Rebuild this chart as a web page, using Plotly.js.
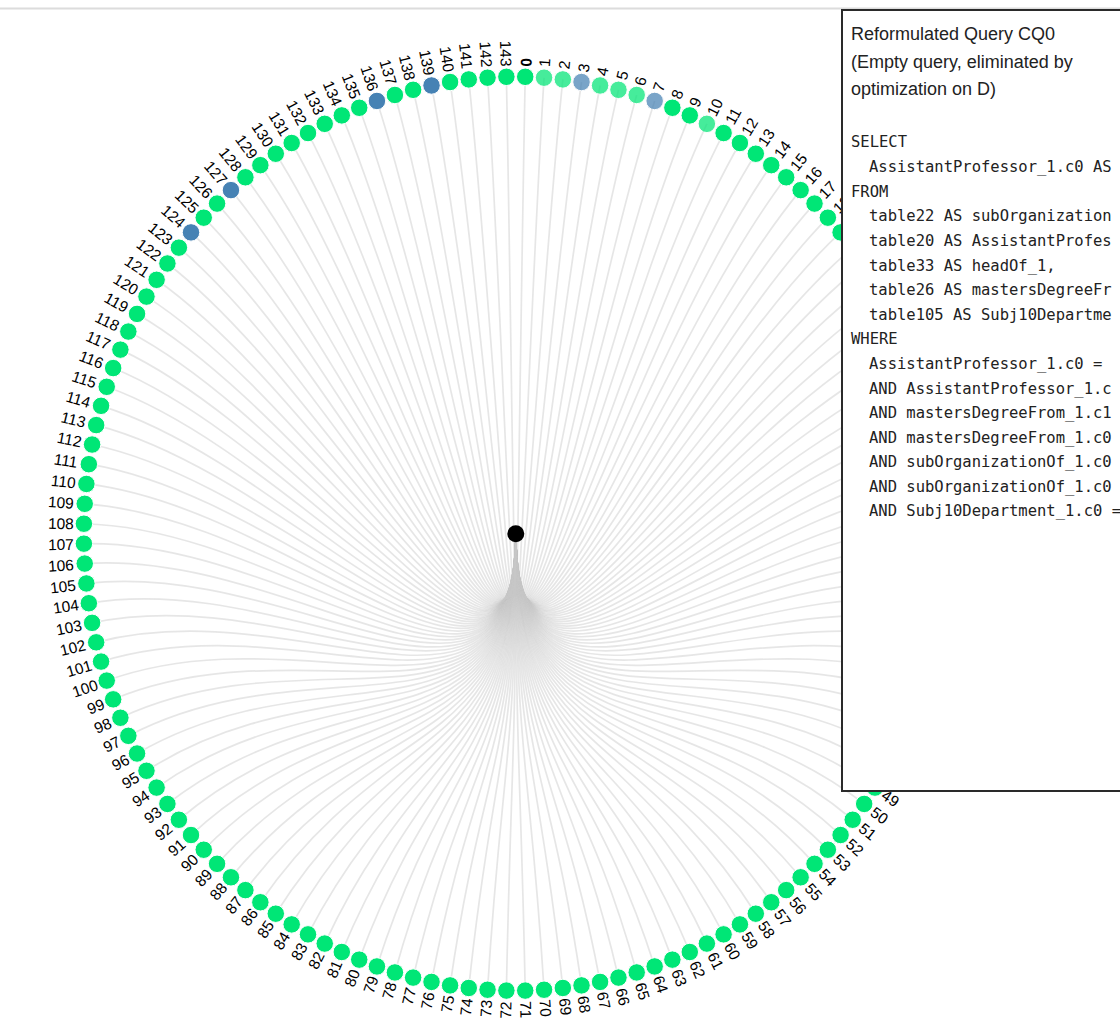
<!DOCTYPE html>
<html>
<head>
<meta charset="utf-8">
<script src="https://cdn.plot.ly/plotly-3.0.1.min.js"></script>
<style>
html,body{margin:0;padding:0;background:#fff;overflow:hidden}
#chart{width:1120px;height:1026px}
</style>
</head>
<body>
<div id="chart"></div>
<script>
// ---------------- data ----------------
const leafIds = [
  0,1,2,3,4,5,6,7,8,9,10,11,12,13,14,15,16,17,18,19,20,21,22,23,24,25,26,27,28,29,
  30,31,32,33,34,35,36,37,38,39,40,41,42,43,44,45,46,47,48,49,50,51,52,53,54,55,56,57,58,59,
  60,61,62,63,64,65,66,67,68,69,70,71,72,73,74,75,76,77,78,79,80,81,82,83,84,85,86,87,88,89,
  90,91,92,93,94,95,96,97,98,99,100,101,102,103,104,105,106,107,108,109,110,111,112,113,114,
  115,116,117,118,119,120,121,122,123,124,125,126,127,128,129,130,131,132,133,134,135,136,137,
  138,139,140,141,142,143
];
const blueLeaves = [3, 7, 124, 127, 136, 139];
const fadedLeaves = [1, 2, 3, 4, 5, 6, 7, 10];
const boldLeaves = [0];

const queryTitle = [
  "Reformulated Query CQ0",
  "(Empty query, eliminated by",
  "optimization on D)"
];
const sqlText = [
  "SELECT",
  "  AssistantProfessor_1.c0 AS",
  "FROM",
  "  table22 AS subOrganization",
  "  table20 AS AssistantProfes",
  "  table33 AS headOf_1,",
  "  table26 AS mastersDegreeFr",
  "  table105 AS Subj10Departme",
  "WHERE",
  "  AssistantProfessor_1.c0 =",
  "  AND AssistantProfessor_1.c",
  "  AND mastersDegreeFrom_1.c1",
  "  AND mastersDegreeFrom_1.c0",
  "  AND subOrganizationOf_1.c0",
  "  AND subOrganizationOf_1.c0",
  "  AND Subj10Department_1.c0 ="
];

// ---------------- layout geometry ----------------
const W = 1120, H = 1026;
const CX = 515.8, CY = 533.7;     // centre of the radial tree, px
const RX = 432, RY = 457;         // px per data unit
const GREEN = '#00e676', BLUE = '#4682b4';
const LABEL_FONT = 15.5, DIGIT_W = 8.6, LABEL_GAP = 10.5;

const n = leafIds.length;
const theta = leafIds.map((id, i) => (i + 0.5) / n * 2 * Math.PI);
const rootTheta = theta.reduce((a, b) => a + b, 0) / n;
const radial = (a, r) => [r * Math.sin(a), r * Math.cos(a)];

const lx = theta.map(a => radial(a, 1)[0]);
const ly = theta.map(a => radial(a, 1)[1]);
const colors = leafIds.map(id => blueLeaves.includes(id) ? BLUE : GREEN);
const opac = leafIds.map(id => fadedLeaves.includes(id) ? 0.72 : 1);

// links (radial bump curves from the root)
const shapes = theta.map(a => {
  const p1 = radial(rootTheta, 0.5), p2 = radial(a, 0.5), p3 = radial(a, 1);
  return {
    type: 'path', xref: 'x', yref: 'y', layer: 'below',
    path: `M0,0 C${p1[0]},${p1[1]} ${p2[0]},${p2[1]} ${p3[0]},${p3[1]}`,
    line: {color: 'rgba(200,200,200,0.45)', width: 1.7}
  };
});
shapes.push({
  type: 'line', xref: 'paper', yref: 'paper', x0: 0, x1: 1,
  y0: 1 - 8.5 / H, y1: 1 - 8.5 / H, line: {color: '#dcdcdc', width: 2}, layer: 'above'
});

// leaf labels
const annotations = leafIds.map((id, i) => {
  const a = theta[i];
  const s = String(id);
  const d = LABEL_GAP + s.length * DIGIT_W / 2;
  const deg = a * 180 / Math.PI;
  return {
    xref: 'x', yref: 'y',
    x: lx[i] + d * Math.sin(a) / RX,
    y: ly[i] + d * Math.cos(a) / RY,
    text: boldLeaves.includes(id) ? '<b>' + s + '</b>' : s,
    textangle: deg < 180 ? deg - 90 : deg - 270,
    showarrow: false, xanchor: 'center', yanchor: 'middle', borderpad: 0,
    font: {family: 'Liberation Sans, Arial, sans-serif', size: LABEL_FONT, color: '#000'}
  };
});

// info box
annotations.push({
  xref: 'paper', yref: 'paper', x: 841 / W, y: 1 - 9 / H,
  xanchor: 'left', yanchor: 'top', showarrow: false,
  text: ' ', width: 285, height: 779, borderpad: 0,
  bgcolor: '#ffffff', bordercolor: '#2a2a2a', borderwidth: 2,
  align: 'left', valign: 'top'
});
const titleY = [33, 61, 88];
queryTitle.forEach((t, k) => annotations.push({
  xref: 'paper', yref: 'paper', x: 850 / W, y: 1 - (titleY[k] + 1) / H,
  xanchor: 'left', yanchor: 'middle', showarrow: false, borderpad: 0,
  text: t, align: 'left',
  font: {family: 'Liberation Sans, Arial, sans-serif', size: 18, color: '#222'}
}));
sqlText.forEach((t, k) => {
  const indent = t.startsWith('  ');
  annotations.push({
    xref: 'paper', yref: 'paper', x: (indent ? 868 : 850) / W,
    y: 1 - (141 + k * 24.6 + 1.5) / H,
    xanchor: 'left', yanchor: 'middle', showarrow: false, borderpad: 0,
    text: t.trim(), align: 'left',
    font: {family: 'DejaVu Sans Mono, monospace', size: 15.5, color: '#222'}
  });
});

const traces = [
  {
    type: 'scatter', mode: 'markers', x: lx, y: ly, hoverinfo: 'skip',
    text: leafIds.map(String),
    marker: {size: 17.5, color: colors, opacity: opac, line: {color: '#ffffff', width: 1}}
  },
  {
    type: 'scatter', mode: 'markers', x: [0], y: [0], hoverinfo: 'skip',
    marker: {size: 17, color: '#000000'}
  }
];

const layout = {
  width: W, height: H,
  margin: {l: 0, r: 0, t: 0, b: 0, pad: 0},
  paper_bgcolor: '#ffffff', plot_bgcolor: '#ffffff',
  showlegend: false,
  xaxis: {range: [-CX / RX, (W - CX) / RX], visible: false, fixedrange: true},
  yaxis: {range: [(CY - H) / RY, CY / RY], visible: false, fixedrange: true},
  shapes: shapes,
  annotations: annotations
};

Plotly.newPlot('chart', traces, layout, {staticPlot: true, displayModeBar: false});
</script>
</body>
</html>
